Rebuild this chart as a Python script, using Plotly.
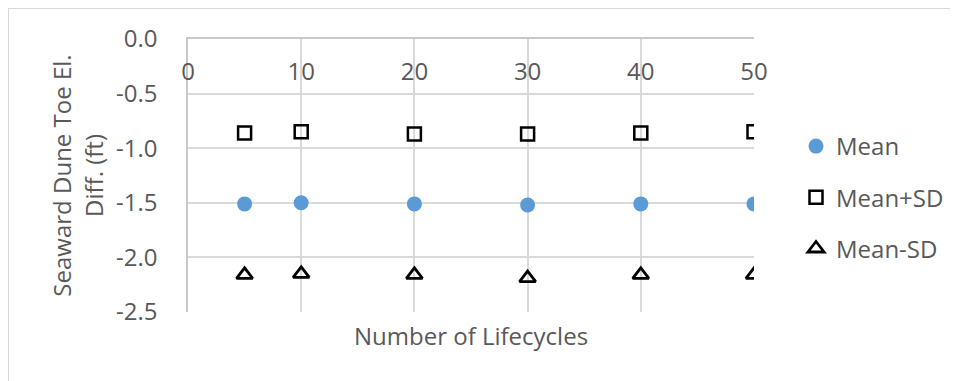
import plotly.graph_objects as go

lifecycles = [5, 10, 20, 30, 40, 50]
mean = [-1.51, -1.50, -1.51, -1.52, -1.51, -1.51]
mean_plus_sd = [-0.86, -0.85, -0.87, -0.87, -0.86, -0.85]
mean_minus_sd = [-2.16, -2.15, -2.16, -2.19, -2.16, -2.16]

x_ticks = [0, 10, 20, 30, 40, 50]
y_ticks = [0.0, -0.5, -1.0, -1.5, -2.0, -2.5]

FONT = "Open Sans"
TXT = "#595959"
GRID = "#d9d9d9"

# page body has an 8px margin; work in page pixels and convert
OFF = 8
W, H = 958 - OFF, 381 - OFF
PL, PT, PR, PB = 188, 39, 754, 312  # plot area in page pixels
L, T = PL - OFF, PT - OFF
R, B = W - (PR - OFF), H - (PB - OFF)
pw, ph = W - L - R, H - T - B

def px_x(p):
    return (p - PL) / pw

def px_y(p):
    return (PB - p) / ph

fig = go.Figure()
fig.add_trace(go.Scatter(x=lifecycles, y=mean, mode="markers", name="Mean",
                         legendgroup="a",
                         marker=dict(symbol="circle", size=15, color="#5B9BD5")))
fig.add_trace(go.Scatter(x=lifecycles, y=mean_plus_sd, mode="markers", name="Mean+SD",
                         legendgroup="b",
                         marker=dict(symbol="square-open", size=13, color="#000000",
                                     line=dict(width=2.5, color="#000000"))))
fig.add_trace(go.Scatter(x=lifecycles, y=mean_minus_sd, mode="markers", name="Mean-SD",
                         legendgroup="c",
                         marker=dict(symbol="triangle-up-open", size=14, color="#000000",
                                     line=dict(width=2.8, color="#000000"))))

fig.update_layout(
    width=W, height=H,
    margin=dict(l=L, r=R, t=T, b=B, pad=0, autoexpand=False),
    paper_bgcolor="white", plot_bgcolor="white",
    font=dict(family=FONT, size=24, color=TXT),
    xaxis=dict(range=[0, 50], tickvals=x_ticks, ticktext=[str(v) for v in x_ticks],
               side="top", ticklabelposition="inside", ticks="",
               ticklabelstandoff=26, ticklabeloverflow="allow", automargin=False,
               showgrid=True, gridcolor=GRID, gridwidth=1.5,
               showline=True, linecolor="#c8c8c8", linewidth=1.5, mirror=False,
               zeroline=False, tickfont=dict(size=24, color=TXT, family=FONT)),
    yaxis=dict(range=[-2.5, 0], tickvals=y_ticks,
               ticktext=[f"{v:.1f}" for v in y_ticks],
               ticks="", ticklabelstandoff=24, ticklabeloverflow="allow", automargin=False,
               showgrid=True, gridcolor=GRID, gridwidth=1.5,
               showline=True, linecolor="#c8c8c8", linewidth=1.5,
               zeroline=False, tickfont=dict(size=24, color=TXT, family=FONT),
               title=dict(text="Seaward Dune Toe El.<br>Diff. (ft)",
                          font=dict(size=24, color=TXT, family=FONT), standoff=6)),
    legend=dict(x=px_x(796), y=px_y(124), xanchor="left", yanchor="top",
                font=dict(size=24, color=TXT, family=FONT),
                tracegroupgap=17, bgcolor="rgba(0,0,0,0)"),
    annotations=[dict(text="Number of Lifecycles", xref="paper", yref="paper",
                      x=0.5, y=px_y(335), xanchor="center", yanchor="middle",
                      showarrow=False, font=dict(size=24, color=TXT, family=FONT))],
    shapes=[
        dict(type="line", xref="paper", yref="paper", x0=px_x(8), x1=px_x(958),
             y0=px_y(8), y1=px_y(8), line=dict(color="#d9d9d9", width=2)),
        dict(type="line", xref="paper", yref="paper", x0=px_x(8), x1=px_x(8),
             y0=px_y(8), y1=px_y(381), line=dict(color="#d9d9d9", width=2)),
    ],
)

fig.write_html("out.html")
